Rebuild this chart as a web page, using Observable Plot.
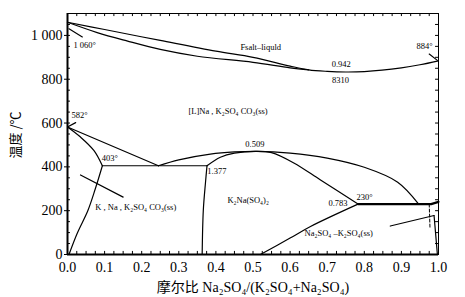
<!DOCTYPE html>
<html><head><meta charset="utf-8">
<script src="https://cdn.jsdelivr.net/npm/d3@7"></script>
<script src="https://cdn.jsdelivr.net/npm/@observablehq/plot@0.6"></script>
<style>body{margin:0;background:#fff} svg{display:block}</style>
</head><body><div id="chart"></div>
<script>
// ---- data (composition x = Na2SO4 mole fraction, T in °C) ----
const xTicks = [0,0.1,0.2,0.3,0.4,0.5,0.6,0.7,0.8,0.9,1.0];
const yTicks = [0,200,400,600,800,1000];
const liquidus = [[0,1060],[0.1,1027],[0.25,977],[0.4,928],[0.5,900],[0.6,860],[0.65,843],[0.7,836],[0.75,833],[0.8,835],[0.9,852],[0.95,866],[1,884]];
const solidus = [[0,1060],[0.08,1013],[0.16,975],[0.25,936],[0.35,905],[0.5,877],[0.6,852],[0.65,843]];
const leftLiquidus = [[0,582],[0.245,405]];
const outerDome = [[0.245,405],[0.3,432],[0.385,458],[0.45,468],[0.509,471],[0.6,463],[0.7,440],[0.8,398],[0.89,330],[0.946,231]];
const curve582to403 = [[0,582],[0.035,536],[0.071,475],[0.094,405]];
const eutectic403 = [[0.094,405],[0.376,405]];
const leftSolvus = [[0.094,405],[0.075,300],[0.055,201],[0.026,96],[0.004,0]];
const solvus1377 = [[0.376,405],[0.372,330],[0.366,200],[0.363,0]];
const innerDome = [[0.376,405],[0.412,444],[0.45,463],[0.509,471],[0.55,465],[0.61,418],[0.682,340],[0.783,230]];
const lowerRight = [[0.52,0],[0.6,75],[0.655,128],[0.783,230]];
const line230 = [[0.783,230],[0.98,230],[1,240]];
const rightDashed = [[0.975,230],[0.977,125]];
const rightSolid = [[0.988,178],[0.992,100],[0.997,0]];
const pointers = [
  [[0.004,1030],[0.04,993]],
  [[0,582],[0.022,602]],
  [[0.975,915],[0.997,886]],
  [[0.035,363],[0.15,262]],
  [[0.87,130],[0.988,178]]
];
const labelsStart = [
  {x:0.016, y:954, text:"1 060°"},
  {x:0.466, y:945, text:"Fsalt–liquld"},
  {x:0.941, y:950, text:"884°"},
  {x:0.011, y:635, text:"582°"},
  {x:0.326, y:653, text:"[L]Na , K₂SO₄ CO₃(ss)"},
  {x:0.092, y:438, text:"403°"},
  {x:0.377, y:379, text:"1.377"},
  {x:0.075, y:215, text:"K , Na , K₂SO₄ CO₃(ss)"},
  {x:0.431, y:247, text:"K₂Na(SO₄)₂"},
  {x:0.779, y:260, text:"230°"},
  {x:0.639, y:96, text:"Na₂SO₄ –K₂SO₄(ss)"}
];
const labelsMiddle = [
  {x:0.738, y:868, text:"0.942"},
  {x:0.736, y:795, text:"8310"},
  {x:0.505, y:502, text:"0.509"}
];
const labelsEnd = [
  {x:0.755, y:233, text:"0.783"}
];
const xMinor = d3.range(0, 1.0001, 0.025);
const yMinor = d3.range(0, 1100, 50);
const xTitle = "摩尔比 Na₂SO₄/(K₂SO₄+Na₂SO₄)";
const yTitle = "温度 /℃";

const solid = [liquidus, solidus, leftLiquidus, outerDome, curve582to403, eutectic403, leftSolvus, solvus1377, innerDome, lowerRight, rightSolid, ...pointers];
const lineMarks = solid.map(c => Plot.line(c, {x: d => d[0], y: d => d[1], stroke: "#000", strokeWidth: 1.2, curve: "catmull-rom"}));
const textOpts = {x: "x", y: "y", text: "text", fontSize: 8.5, fill: "#000"};

const chart = Plot.plot({
  width: 465, height: 297,
  marginLeft: 67, marginRight: 27, marginTop: 13, marginBottom: 43,
  style: {fontFamily: "'Liberation Serif','Times New Roman',serif", fontSize: "14px", background: "#fff", color: "#000"},
  x: {domain: [0,1], ticks: xTicks, tickFormat: d => d.toFixed(1), label: null, tickSize: 0, tickPadding: 8},
  y: {domain: [0,1100], ticks: yTicks, tickFormat: d => d === 1000 ? "1 000" : String(d), label: null, tickSize: 3, tickPadding: 2},
  marks: [
    ...lineMarks,
    Plot.line(line230, {x: d => d[0], y: d => d[1], stroke: "#000", strokeWidth: 2.2}),
    Plot.line(rightDashed, {x: d => d[0], y: d => d[1], stroke: "#000", strokeWidth: 1, strokeDasharray: "3,2"}),
    Plot.ruleX(xMinor, {x: d => d, y1: 0, y2: 14, stroke: "#000", strokeWidth: 1}),
    Plot.ruleX(xMinor, {x: d => d, y1: 1100, y2: 1086, stroke: "#000", strokeWidth: 1}),
    Plot.ruleY(yMinor, {y: d => d, x1: 0, x2: 0.008, stroke: "#000", strokeWidth: 1}),
    Plot.ruleY(yMinor, {y: d => d, x1: 1, x2: 0.992, stroke: "#000", strokeWidth: 1}),
    Plot.frame({stroke: "#000", strokeWidth: 1}),
    Plot.ruleX([0], {stroke: "#000", strokeWidth: 2}),
    Plot.ruleY([0], {stroke: "#000", strokeWidth: 2}),
    Plot.text(labelsStart, {...textOpts, textAnchor: "start"}),
    Plot.text(labelsMiddle, {...textOpts, textAnchor: "middle"}),
    Plot.text(labelsEnd, {...textOpts, textAnchor: "end"})
  ]
});
const svg = d3.select(chart);
svg.append("text").attr("x", 253).attr("y", 292).attr("text-anchor", "middle")
  .style("font-size", "14px").style("font-family", "'Liberation Serif','Noto Sans CJK SC',serif").text(xTitle);
svg.append("text").attr("transform", "translate(20,135) rotate(-90)").attr("text-anchor", "middle")
  .style("font-size", "13px").style("font-family", "'Noto Sans CJK SC','Liberation Serif',serif").text(yTitle);
document.getElementById("chart").appendChild(chart);
</script>
</body></html>
